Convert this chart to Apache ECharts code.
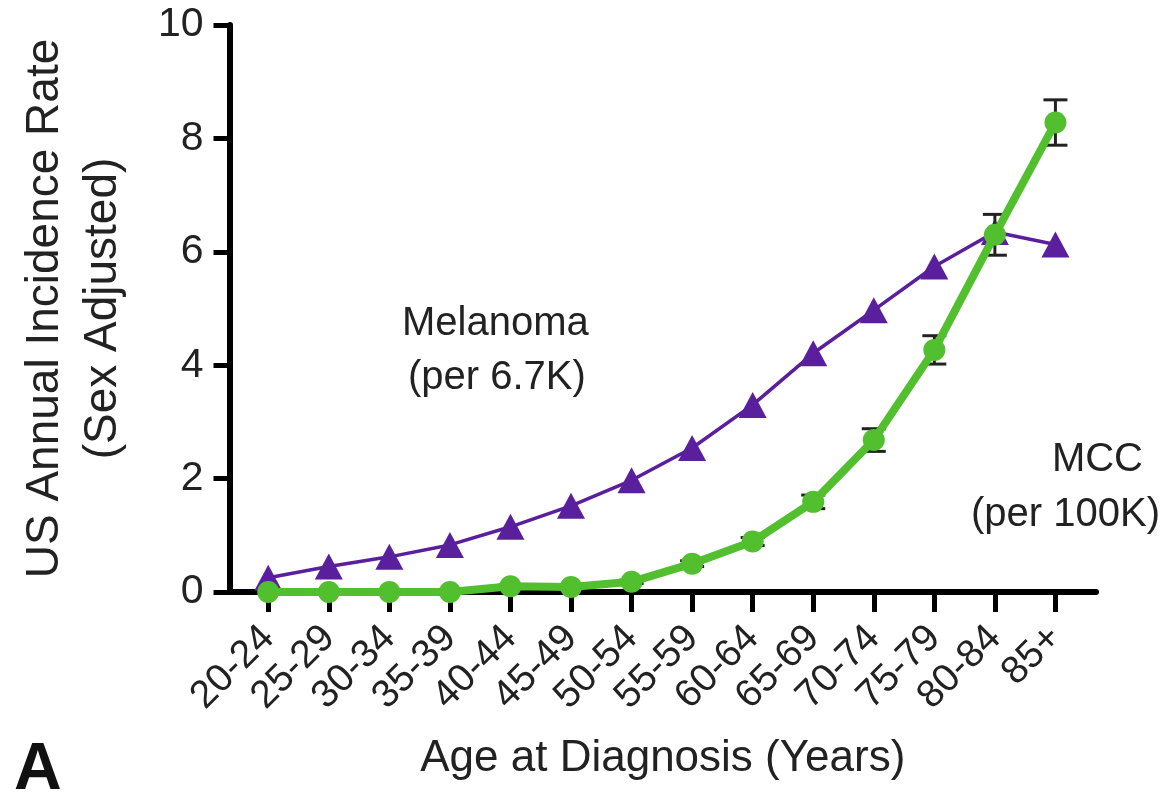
<!DOCTYPE html>
<html>
<head>
<meta charset="utf-8">
<script src="https://cdn.jsdelivr.net/npm/echarts@6/dist/echarts.min.js"></script>
<style>
html,body{margin:0;padding:0;background:#fff;}
#chart{width:1176px;height:802px;}
</style>
</head>
<body>
<div id="chart"></div>
<script>
const categories = ['20-24','25-29','30-34','35-39','40-44','45-49','50-54','55-59','60-64','65-69','70-74','75-79','80-84','85+'];
const melanoma = [0.25,0.45,0.62,0.83,1.15,1.52,1.97,2.54,3.30,4.21,4.97,5.74,6.35,6.13];
const mcc = [0,0,0,0,0.1,0.09,0.18,0.5,0.89,1.59,2.68,4.27,6.30,8.28];
const mccErr = [0,0,0,0,0.02,0.02,0.03,0.05,0.07,0.12,0.2,0.25,0.36,0.4];
const yTicks = [0,2,4,6,8,10];

const FONT = '"Liberation Sans", Arial, Helvetica, sans-serif';
const PURPLE = '#5a1f9c';
const GREEN = '#52bf2f';
const idx = categories.map((c, i) => i);

const chart = echarts.init(document.getElementById('chart'), null, {renderer: 'canvas'});
chart.setOption({
  backgroundColor: '#fff',
  animation: false,
  grid: {left: 229.5, right: 80, top: 25, bottom: 210},
  xAxis: {
    type: 'value',
    min: -0.64,
    max: 13.67,
    name: 'Age at Diagnosis (Years)',
    nameLocation: 'middle',
    nameGap: 145,
    nameTextStyle: {fontFamily: FONT, fontSize: 44, color: '#222'},
    axisLine: {show: true, onZero: false, lineStyle: {color: '#000', width: 6}},
    axisTick: {show: true, customValues: idx, length: 20, lineStyle: {color: '#000', width: 5}},
    axisLabel: {
      customValues: idx,
      rotate: 45,
      margin: 40,
      fontFamily: FONT, fontSize: 39, color: '#222',
      formatter: v => categories[Math.round(v)]
    },
    splitLine: {show: false}
  },
  yAxis: {
    type: 'value',
    min: 0, max: 10, interval: 2,
    name: 'US Annual Incidence Rate\n(Sex Adjusted)',
    nameLocation: 'middle',
    nameGap: 97,
    nameTextStyle: {fontFamily: FONT, fontSize: 46, color: '#222', lineHeight: 58},
    axisLine: {show: true, onZero: false, lineStyle: {color: '#000', width: 6}},
    axisTick: {show: true, length: 16, lineStyle: {color: '#000', width: 5}},
    axisLabel: {margin: 26, fontFamily: FONT, fontSize: 41, color: '#222',
      customValues: yTicks},
    splitLine: {show: false}
  },
  graphic: [
    {type: 'text', left: 402, top: 304, style: {text: 'Melanoma', font: '40px ' + FONT, fill: '#222'}},
    {type: 'text', left: 408, top: 358, style: {text: '(per 6.7K)', font: '40px ' + FONT, fill: '#222'}},
    {type: 'text', right: 33, top: 440, style: {text: 'MCC', font: '40px ' + FONT, fill: '#222'}},
    {type: 'text', right: 16, top: 495, style: {text: '(per 100K)', font: '40px ' + FONT, fill: '#222'}},
    {type: 'text', left: 14, top: 738, style: {text: 'A', font: 'bold 66px ' + FONT, fill: '#111'}}
  ],
  series: [
    {
      name: 'Melanoma',
      type: 'line',
      data: melanoma.map((v, i) => [i, v]),
      symbol: 'triangle',
      symbolSize: [28, 26],
      lineStyle: {color: PURPLE, width: 3.5},
      itemStyle: {color: PURPLE},
      z: 3
    },
    {
      name: 'MCC error',
      type: 'custom',
      data: mcc.map((v, i) => [i, v, mccErr[i]]),
      renderItem: function (params, api) {
        const x = api.value(0), v = api.value(1), e = api.value(2);
        if (!(e > 0)) return null;
        const hi = api.coord([x, v + e]);
        const lo = api.coord([x, v - e]);
        const hw = 12;
        const st = {stroke: '#222', lineWidth: 3};
        return {
          type: 'group',
          children: [
            {type: 'line', shape: {x1: hi[0], y1: hi[1], x2: lo[0], y2: lo[1]}, style: st},
            {type: 'line', shape: {x1: hi[0] - hw, y1: hi[1], x2: hi[0] + hw, y2: hi[1]}, style: st},
            {type: 'line', shape: {x1: lo[0] - hw, y1: lo[1], x2: lo[0] + hw, y2: lo[1]}, style: st}
          ]
        };
      },
      z: 4
    },
    {
      name: 'MCC',
      type: 'line',
      data: mcc.map((v, i) => [i, v]),
      symbol: 'circle',
      symbolSize: 22,
      lineStyle: {color: GREEN, width: 8},
      itemStyle: {color: GREEN},
      z: 5
    }
  ]
});
</script>
</body>
</html>
